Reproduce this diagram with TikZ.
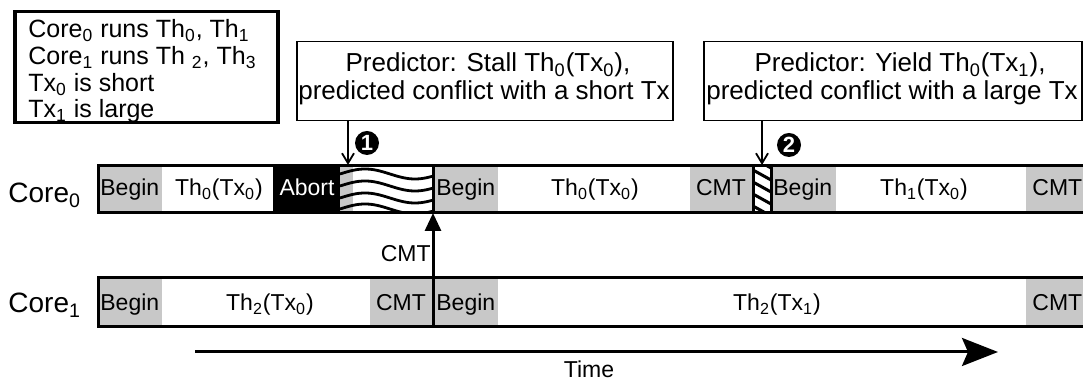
\documentclass[tikz,border=0pt]{standalone}
\usepackage{fontspec}
\setmainfont{Liberation Sans}
\usetikzlibrary{arrows.meta}
\definecolor{segray}{RGB}{200,200,200}
\newcommand{\sbs}[1]{\textsubscript{#1}}
\begin{document}
\begin{tikzpicture}[x=0.5pt,y=-0.5pt,
  thickborder/.style={line width=1.5pt},
  rowtxt/.style={font=\fontsize{11.5}{13}\selectfont, inner sep=0pt, anchor=base},
  corelbl/.style={font=\fontsize{14}{16}\selectfont, inner sep=0pt, anchor=base west},
  legtxt/.style={font=\fontsize{12.5}{14}\selectfont, inner sep=0pt, anchor=base west},
  predtxt/.style={font=\fontsize{13}{15}\selectfont, inner sep=0pt, anchor=base},
  predbox/.style={draw, line width=0.75pt, inner sep=0pt, anchor=north west},
  num/.style={circle, fill=black, text=white, inner sep=0pt, minimum size=12pt, font=\bfseries\fontsize{11}{11}\selectfont},
  ptr/.style={line width=0.9pt, -{Straight Barb[length=5pt,width=6pt]}},
]
\useasboundingbox (0,0) rectangle (1083,383);
\fill[white] (0,0) rectangle (1083,383);

% legend
\node[draw, line width=1.75pt, minimum width=131.5pt, minimum height=55.5pt, anchor=north west, inner sep=0pt] (legend) at (13,10) {};
\node[legtxt] (l1) at (28,38) {Core\sbs{0} runs Th\sbs{0}, Th\sbs{1}};
\node[legtxt] (l2) at (28,65) {Core\sbs{1} runs Th \sbs{2}, Th\sbs{3}};
\node[legtxt] (l3) at (28,92) {Tx\sbs{0} is short};
\node[legtxt] (l4) at (28,118) {Tx\sbs{1} is large};

% predictor boxes
\node[predbox, minimum width=188pt, minimum height=39.5pt] (p1) at (296,41) {};
\node[predbox, minimum width=189pt, minimum height=39.5pt] (p2) at (703,41) {};
\node[predtxt] (p1a) at (488,72) {Predictor: Stall Th\sbs{0}(Tx\sbs{0}),};
\node[predtxt] (p1b) at (484,100) {predicted conflict with a short Tx};
\node[predtxt] (p2a) at (900,72) {Predictor: Yield Th\sbs{0}(Tx\sbs{1}),};
\node[predtxt] (p2b) at (892,100) {predicted conflict with a large Tx};

% Core0 row fills
\fill[segray] (99,166) rectangle (162,213);
\fill[black] (273,166) rectangle (340,213);
\fill[segray] (340,166) rectangle (353,213);
\fill[segray] (433,166) rectangle (498,213);
\fill[segray] (690,166) rectangle (753,213);
\fill[segray] (771,166) rectangle (836,213);
\fill[segray] (1026,166) rectangle (1083,213);
% waves
\begin{scope}
\clip (340,166) rectangle (433,213);
\foreach \yy in {174,186,198,209}
  \draw[line width=1.4pt, domain=340:433, samples=40, smooth] plot (\x, {\yy-5*sin(3.6*(\x-340))});
\end{scope}
% hatch
\begin{scope}
\clip (753,166) rectangle (771,213);
\foreach \yy in {158,170,182,194,206}
  \draw[line width=1.5pt] (753,\yy) -- (771,\yy+10);
\end{scope}
\draw[thickborder] (753,166) -- (753,213) (771,166) -- (771,213);
\draw[thickborder] (433,166) -- (433,213);
\draw[thickborder] (1083,166) -- (98,166) -- (98,213) -- (1083,213);

% Core1 row fills
\fill[segray] (99,278) rectangle (162,327);
\fill[segray] (370,278) rectangle (498,327);
\fill[segray] (1026,278) rectangle (1083,327);
\draw[thickborder] (433,278) -- (433,327);
\draw[thickborder] (1083,278) -- (98,278) -- (98,327) -- (1083,327);

% row 0 texts
\node[rowtxt, anchor=base west] (b0a) at (100,196) {Begin};
\node[rowtxt] (t0a) at (219,196) {Th\sbs{0}(Tx\sbs{0})};
\node[rowtxt, text=white] (ab) at (307,196) {Abort};
\node[rowtxt, anchor=base west] (b0b) at (436,196) {Begin};
\node[rowtxt] (t0b) at (595,196) {Th\sbs{0}(Tx\sbs{0})};
\node[rowtxt] (c0a) at (721,196) {CMT};
\node[rowtxt, anchor=base west] (b0c) at (773,196) {Begin};
\node[rowtxt] (t0c) at (924,196) {Th\sbs{1}(Tx\sbs{0})};
\node[rowtxt, anchor=base west] (c0b) at (1032,196) {CMT};

% row 1 texts
\node[rowtxt, anchor=base west] (b1a) at (100,311) {Begin};
\node[rowtxt] (t1a) at (270,311) {Th\sbs{2}(Tx\sbs{0})};
\node[rowtxt] (c1a) at (401,311) {CMT};
\node[rowtxt, anchor=base west] (b1b) at (436,311) {Begin};
\node[rowtxt] (t1b) at (777,311) {Th\sbs{2}(Tx\sbs{1})};
\node[rowtxt, anchor=base west] (c1b) at (1032,311) {CMT};

% core labels
\node[corelbl] (core0) at (8,203) {Core\sbs{0}};
\node[corelbl] (core1) at (8,313) {Core\sbs{1}};

% commit arrow
\coordinate (c1top) at (433,278);
\coordinate (c0bot) at (433,213);
\draw[line width=1.5pt, -{Triangle[length=9pt,width=8pt]}] (c1top) -- (c0bot);
\node[rowtxt, anchor=base east] (cmtlbl) at (431,262) {CMT};

% predictor pointers
\coordinate (a1) at (348,165);
\draw[ptr] (p1.south -| a1) -- (a1);
\coordinate (a2) at (762,165);
\draw[ptr] (p2.south -| a2) -- (a2);
\node[num] (n1) at (367,143) {1};
\node[num] (n2) at (789,145) {2};

% time arrow
\coordinate (tstart) at (195,352);
\coordinate (tend) at (998,352);
\draw[line width=1.5pt, -{Stealth[length=18pt,width=14pt,inset=3pt]}] (tstart) -- (tend);
\node[font=\fontsize{11.5}{13}\selectfont, inner sep=0pt, anchor=base] (time) at (589,378) {Time};
\end{tikzpicture}
\end{document}
